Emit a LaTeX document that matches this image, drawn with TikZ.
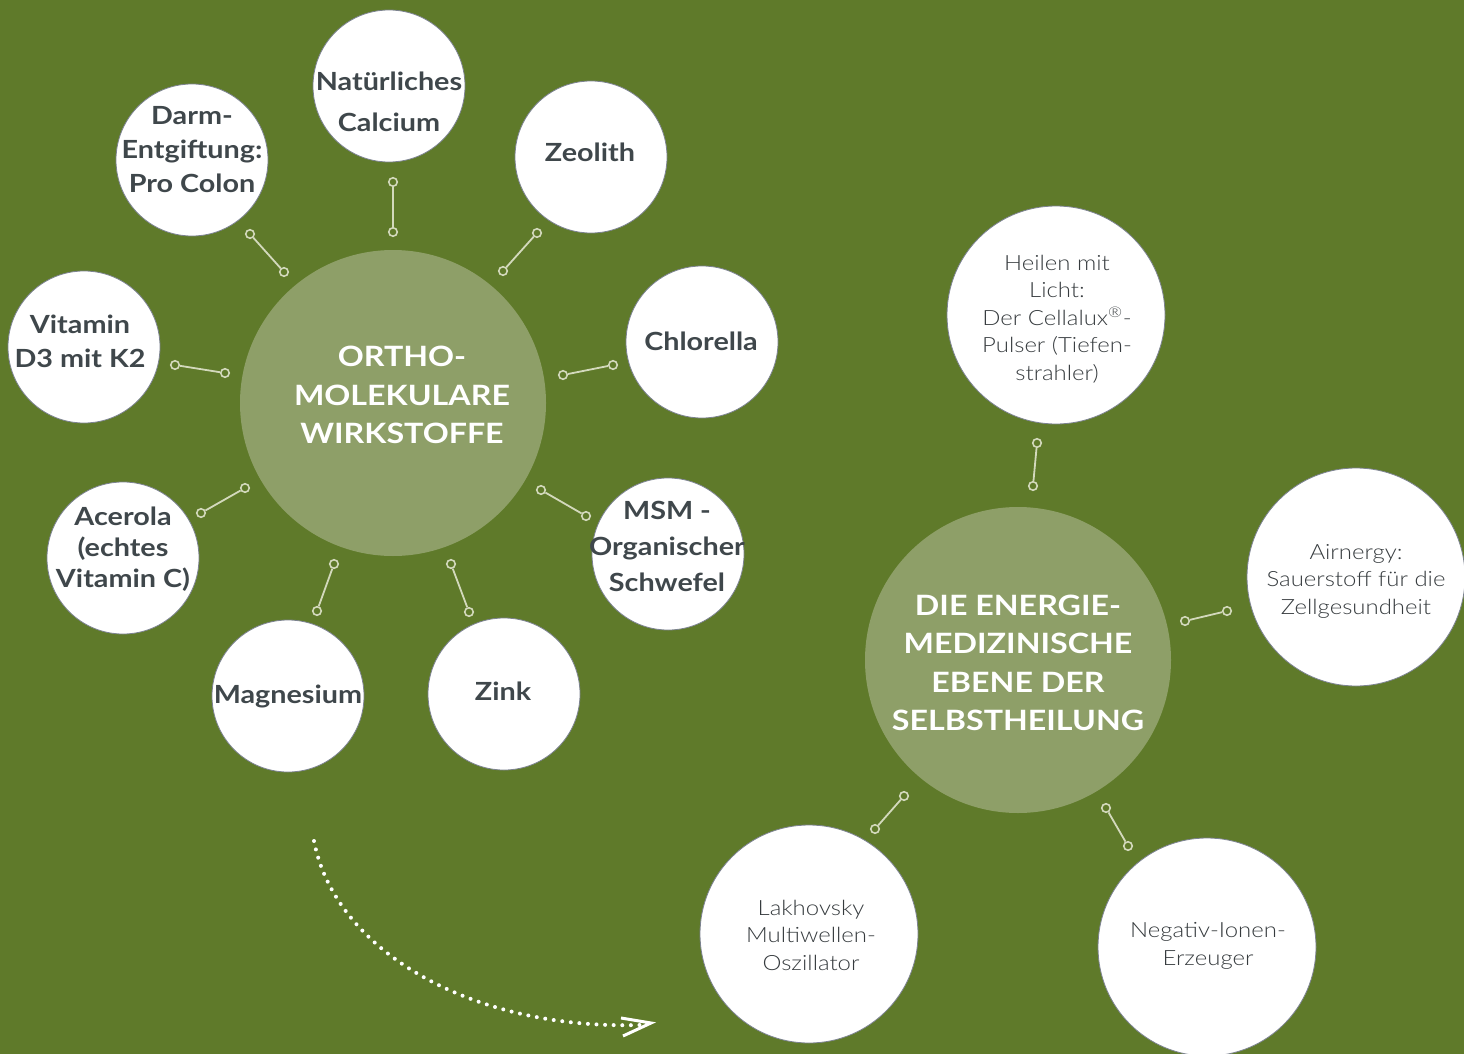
\documentclass[tikz,border=0pt]{standalone}
\usepackage{fontspec}
\setmainfont{Lato}[FakeStretch=1.15]
\newfontfamily\lightfont{Lato Light}[FakeStretch=1.14]
\definecolor{bg}{HTML}{5F7A2A}
\definecolor{hub}{HTML}{8E9F68}
\definecolor{conn}{HTML}{D3D9BC}
\definecolor{txt}{HTML}{3F474B}
\definecolor{ltx}{HTML}{363B3E}
\definecolor{ring}{HTML}{7C8290}
\begin{document}
\begin{tikzpicture}[x=1pt,y=-1pt,
 leaf/.style={circle,fill=white,draw=ring,line width=0.8pt,minimum size=152pt,inner sep=0pt},
 bigleaf/.style={leaf,minimum size=218pt},
 hubnode/.style={circle,fill=hub,minimum size=306pt,inner sep=0pt},
 btxt/.style={font=\fontsize{25}{34}\selectfont\bfseries,text=txt,align=center,inner sep=0pt},
 htxt/.style={font=\fontsize{28}{38.5}\selectfont\bfseries,text=white,align=center,inner sep=0pt},
 ltxt/.style={font=\lightfont\fontsize{21}{27.5}\selectfont,text=ltx,align=center,inner sep=0pt},
 link/.style={draw=conn,line width=1.8pt},
 endpt/.style={circle,draw=conn,line width=1.6pt,fill=bg,minimum size=8.5pt,inner sep=0pt},
 dotted arrow/.style={white,line width=4pt,line cap=round,dash pattern=on 0pt off 8.6pt}
]
\fill[bg] (0,0) rectangle (1464,1054);
\useasboundingbox (0,0) rectangle (1464,1054);
\clip (0,0) rectangle (1464,1054);

% hubs
\node[hubnode] (hubA) at (393,403) {};
\node[hubnode] (hubB) at (1018,660) {};
\node[htxt] (hubAt) at (402,395) {ORTHO-\\MOLEKULARE\\WIRKSTOFFE};
\node[htxt] (hubBt) at (1018,663) {DIE ENERGIE-\\MEDIZINISCHE\\EBENE DER\\SELBSTHEILUNG};

% small leaves
\node[leaf] (calc) at (389,86) {};
\node[leaf] (darm) at (192,160) {};
\node[leaf] (zeo) at (591,157) {};
\node[leaf] (chlo) at (702,342) {};
\node[leaf] (vit) at (84,347) {};
\node[leaf] (acer) at (123,558) {};
\node[leaf] (msm) at (668,554) {};
\node[leaf] (magn) at (288,696) {};
\node[leaf] (zink) at (504,694) {};

\node[btxt,font=\fontsize{25}{41}\selectfont\bfseries] (calct) at (389,102) {Natürliches\\Calcium};
\node[btxt] (darmt) at (192,150) {Darm-\\Entgiftung:\\Pro Colon};
\node[btxt] (zeot) at (590,152) {Zeolith};
\node[btxt] (chlot) at (701,341) {Chlorella};
\node[btxt] (vitt) at (80,341) {Vitamin\\D3 mit K2};
\node[btxt,font=\fontsize{25}{31}\selectfont\bfseries] (acert) at (123,549) {Acerola\\(echtes\\Vitamin C)};
\node[btxt,font=\fontsize{25}{36}\selectfont\bfseries] (msmt) at (667,546) {MSM -\\Organischer\\Schwefel};
\node[btxt] (magnt) at (288,696) {Magnesium};
\node[btxt] (zinkt) at (503,691) {Zink};

% big leaves
\node[bigleaf] (heil) at (1056,315) {};
\node[bigleaf] (air) at (1356,577) {};
\node[bigleaf] (lakh) at (809,934) {};
\node[bigleaf] (neg) at (1207,947) {};

\node[ltxt] (heilt) at (1057,319) {Heilen mit\\Licht:\hspace{0.6em}\\Der Cellalux\textsuperscript{®}-\\Pulser (Tiefen-\\strahler)};
\node[ltxt] (airt) at (1356,581) {Airnergy:\\Sauerstoff für die\\Zellgesundheit};
\node[ltxt] (lakht) at (811,935) {Lakhovsky\\Multiwellen-\\Oszillator};
\node[ltxt] (negt) at (1208,946) {Negativ-Ionen-\\Erzeuger};

% connectors
\foreach \n/\ax/\ay/\bx/\by in {
  k1/393/182/393/232,
  k2/250/234/284/272,
  k3/537/233/503/271,
  k4/613/365/563/375,
  k5/175/365/225/373,
  k6/201/513/245/488,
  k7/541/490/586/516,
  k8/334/564/317/611,
  k9/451/564/469/612,
  k10/1037/443/1033/486,
  k11/1185/621/1227/611,
  k12/904/796/875/829,
  k13/1106/808/1128/846}{
  \node[endpt] (\n a) at (\ax,\ay) {};
  \node[endpt] (\n b) at (\bx,\by) {};
  \draw[link] (\n a) -- (\n b);
}

% dotted arrow
\coordinate (arrS) at (314,841);
\coordinate (arrE) at (640,1025);
\coordinate (arrT) at (651,1023);
\draw[dotted arrow] (arrS) .. controls (335,950) and (470,1030) .. (arrE);
\draw[white,line width=3pt] (621,1018) -- (arrT) -- (623,1036);
\end{tikzpicture}
\end{document}
